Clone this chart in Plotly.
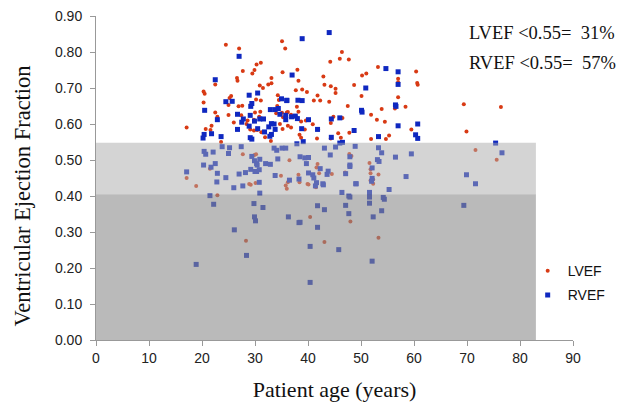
import plotly.graph_objects as go

# LVEF (red) points: patient age, ejection fraction
lvef_age = [24.5, 27.0, 35.1, 35.7, 30.3, 31.1, 29.9, 27.7, 29.5, 26.6, 26.7, 22.5, 33.1, 30.9, 32.5, 33.1,
            31.5, 20.3, 20.5, 25.5, 25.2, 20.3, 25.0, 26.9, 27.6, 34.3, 34.5, 30.2, 31.1, 22.5, 22.9, 25.0,
            27.4, 30.0, 30.8, 31.0, 26.0, 28.4, 28.6, 29.8, 17.1, 21.8, 20.7, 21.6, 29.1, 29.8, 30.4, 31.2,
            23.6, 31.9, 33.0, 34.2, 34.0, 35.1, 36.0, 35.3, 34.7, 35.2, 35.2, 46.4, 46.0, 47.7, 44.2, 38.0,
            42.9, 50.2, 51.0, 53.2, 60.4, 57.0, 57.0, 60.6, 60.7, 38.2, 43.1, 44.3, 45.2, 45.2, 48.7, 37.7,
            38.9, 39.8, 41.8, 41.1, 42.3, 44.0, 50.1, 57.0, 47.5, 58.4, 56.4, 53.9, 37.9, 38.2, 37.7, 36.2,
            36.8, 51.9, 44.8, 46.5, 53.0, 54.5, 44.3, 38.7, 39.6, 40.9, 41.9, 41.7, 39.4, 38.4, 38.7, 44.3,
            45.7, 46.2, 47.8, 51.9, 54.7, 55.3, 59.5, 36.2, 36.8, 69.4, 76.4, 69.9,
            17.1, 18.9, 27.7, 29.9, 30.2, 28.9, 29.2, 30.1, 22.9, 34.9, 36.2, 35.8, 36.5, 38.2, 39.9, 41.8,
            41.6, 42.1, 44.5, 47.0, 47.8, 48.2, 28.3, 40.4, 43.1, 48.0, 53.3, 51.8, 52.3, 40.1, 41.5, 51.6,
            51.8, 51.8, 52.3, 52.1, 53.3, 56.6, 71.6, 75.6, 21.5, 36.0, 38.4]
lvef_val = [0.82, 0.81, 0.83, 0.81, 0.765, 0.77, 0.75, 0.747, 0.74, 0.728, 0.72, 0.71, 0.728, 0.707, 0.71, 0.713,
            0.70, 0.69, 0.684, 0.678, 0.672, 0.66, 0.653, 0.649, 0.651, 0.68, 0.667, 0.668, 0.665, 0.632, 0.62, 0.625,
            0.624, 0.632, 0.62, 0.634, 0.604, 0.60, 0.61, 0.612, 0.59, 0.595, 0.586, 0.583, 0.585, 0.582, 0.583, 0.577,
            0.55, 0.563, 0.553, 0.65, 0.63, 0.631, 0.632, 0.619, 0.60, 0.586, 0.744, 0.80, 0.781, 0.779, 0.773, 0.751,
            0.732, 0.735, 0.74, 0.758, 0.746, 0.726, 0.716, 0.714, 0.709, 0.72, 0.709, 0.705, 0.698, 0.686, 0.708, 0.694,
            0.696, 0.689, 0.679, 0.665, 0.665, 0.662, 0.678, 0.674, 0.65, 0.648, 0.643, 0.642, 0.648, 0.634, 0.62, 0.633,
            0.626, 0.626, 0.62, 0.617, 0.612, 0.606, 0.603, 0.607, 0.61, 0.599, 0.585, 0.56, 0.585, 0.57, 0.562, 0.56,
            0.574, 0.562, 0.576, 0.558, 0.558, 0.568, 0.585, 0.595, 0.59, 0.655, 0.647, 0.579,
            0.45, 0.428, 0.516, 0.514, 0.516, 0.433, 0.431, 0.436, 0.402, 0.456, 0.438, 0.429, 0.499, 0.459, 0.433, 0.489,
            0.479, 0.463, 0.461, 0.465, 0.517, 0.511, 0.276, 0.342, 0.272, 0.329, 0.284, 0.443, 0.434, 0.432, 0.424, 0.492,
            0.474, 0.463, 0.446, 0.438, 0.46, 0.508, 0.528, 0.501, 0.476, 0.42, 0.438]

# RVEF (blue) points
rvef_age = [27.0, 22.5, 28.9, 30.5, 24.5, 25.7, 29.2, 29.4, 20.5, 26.7, 27.8, 29.1, 31.6, 32.9, 33.8, 22.9,
            27.5, 28.9, 30.5, 33.1, 33.6, 26.7, 21.8, 20.2, 20.4, 23.6, 31.8, 32.6, 32.8, 33.1, 29.1, 29.4,
            34.4, 35.0, 36.0, 34.7, 35.8, 33.8, 29.9, 30.9, 44.0, 38.9, 37.0, 54.7, 57.0, 57.0, 50.9, 36.0,
            38.1, 38.9, 50.1, 50.2, 56.5, 56.6, 35.8, 36.9, 37.6, 38.0, 40.1, 44.4, 46.0, 38.8, 41.8, 48.7,
            57.0, 60.7, 44.4, 53.3, 39.1, 60.3, 60.7,
            20.4, 20.7, 22.1, 23.8, 25.2, 25.0, 27.4, 20.3, 21.7, 22.5, 17.1, 22.9, 24.5, 22.8, 27.0, 28.2,
            26.0, 27.7, 29.4, 29.9, 30.3, 30.4, 30.9, 32.0, 32.9, 33.6, 34.1, 35.1, 34.3, 33.8, 35.8, 29.2,
            30.0, 30.3, 30.8, 30.8, 30.9, 36.5, 37.9, 38.5, 39.4, 40.1, 39.7, 40.1, 40.9, 41.1, 41.6, 41.4,
            42.8, 42.9, 43.1, 44.2, 45.2, 46.0, 46.5, 47.9, 47.1, 46.4, 47.7, 47.9, 21.5, 22.2, 29.8, 31.5,
            29.9, 30.1, 26.1, 28.4, 18.9, 36.3, 38.3, 41.8, 43.1, 41.8, 40.4, 40.4, 45.8, 47.1, 47.7, 49.1,
            51.6, 51.6, 51.6, 52.3, 53.9, 54.4, 55.3, 52.1, 69.4, 71.6, 38.5, 53.3, 56.5, 59.5, 53.1, 53.4,
            53.9, 52.1, 58.5, 52.1, 52.0, 54.2, 69.9, 75.4, 76.6, 48.9, 47.9, 47.9, 49.0, 38.3, 42.3, 43.8,
            43.6]
rvef_val = [0.788, 0.723, 0.68, 0.686, 0.662, 0.663, 0.649, 0.657, 0.638, 0.627, 0.614, 0.624, 0.614, 0.64, 0.64, 0.612,
            0.605, 0.594, 0.587, 0.601, 0.60, 0.585, 0.573, 0.561, 0.571, 0.565, 0.578, 0.592, 0.566, 0.571, 0.562, 0.558,
            0.643, 0.67, 0.665, 0.627, 0.612, 0.585, 0.608, 0.614, 0.854, 0.837, 0.736, 0.754, 0.745, 0.71, 0.70, 0.666,
            0.666, 0.665, 0.638, 0.633, 0.653, 0.649, 0.624, 0.62, 0.622, 0.615, 0.612, 0.614, 0.617, 0.587, 0.585, 0.582,
            0.595, 0.60, 0.563, 0.565, 0.551, 0.57, 0.56,
            0.524, 0.516, 0.522, 0.537, 0.534, 0.518, 0.537, 0.486, 0.48, 0.49, 0.467, 0.463, 0.451, 0.439, 0.461, 0.465,
            0.423, 0.428, 0.51, 0.498, 0.49, 0.486, 0.502, 0.49, 0.488, 0.533, 0.527, 0.533, 0.503, 0.457, 0.533, 0.474,
            0.468, 0.468, 0.473, 0.438, 0.408, 0.444, 0.545, 0.509, 0.506, 0.507, 0.49, 0.464, 0.459, 0.45, 0.437, 0.428,
            0.434, 0.431, 0.533, 0.514, 0.536, 0.547, 0.549, 0.482, 0.462, 0.41, 0.40, 0.397, 0.401, 0.377, 0.379, 0.368,
            0.342, 0.331, 0.306, 0.235, 0.21, 0.342, 0.326, 0.373, 0.362, 0.313, 0.26, 0.16, 0.251, 0.374, 0.351, 0.434,
            0.41, 0.397, 0.38, 0.342, 0.359, 0.391, 0.418, 0.219, 0.374, 0.434, 0.327, 0.534, 0.508, 0.517, 0.501, 0.496,
            0.52, 0.478, 0.454, 0.449, 0.441, 0.396, 0.459, 0.547, 0.52, 0.538, 0.486, 0.509, 0.434, 0.447, 0.476, 0.469,
            0.46]

# Axis ticks
x_ticks = [0, 10, 20, 30, 40, 50, 60, 70, 80, 90]
y_ticks = [0.0, 0.1, 0.2, 0.3, 0.4, 0.5, 0.6, 0.7, 0.8, 0.9]
y_ticklabels = ["0.00", "0.10", "0.20", "0.30", "0.40", "0.50", "0.60", "0.70", "0.80", "0.90"]

# Shaded bands
band_age_max = 83
band_low = [0.0, 0.405]
band_high = [0.405, 0.548]

summary_text = ["LVEF <0.55=\u00a0\u00a031%", "RVEF <0.55=\u00a0\u00a057%"]
x_title = "Patient age (years)"
y_title = "Ventricular Ejection Fraction"

serif = "Liberation Serif, Times New Roman, serif"
sans = "Liberation Sans, Arial, sans-serif"

fig = go.Figure()
fig.add_trace(go.Scatter(x=lvef_age, y=lvef_val, mode="markers", name="LVEF", legendgroup="a",
                         marker=dict(symbol="circle", size=4, color="#d83a14", line=dict(width=0))))
fig.add_trace(go.Scatter(x=rvef_age, y=rvef_val, mode="markers", name="RVEF", legendgroup="b",
                         marker=dict(symbol="square", size=5, color="#0f28c0", line=dict(width=0))))

fig.add_shape(type="rect", xref="x", yref="y", x0=0, x1=band_age_max, y0=band_high[0], y1=band_high[1],
              fillcolor="#aaaaaa", opacity=0.5, line=dict(width=0), layer="above")
fig.add_shape(type="rect", xref="x", yref="y", x0=0, x1=band_age_max, y0=band_low[0], y1=band_low[1],
              fillcolor="#8c8c8c", opacity=0.6, line=dict(width=0), layer="above")

fig.add_annotation(x=0.777, y=0.948, xref="paper", yref="paper", text=summary_text[0], showarrow=False,
                   xanchor="left", yanchor="middle", font=dict(family=serif, size=18.5, color="#111111"))
fig.add_annotation(x=0.777, y=0.855, xref="paper", yref="paper", text=summary_text[1], showarrow=False,
                   xanchor="left", yanchor="middle", font=dict(family=serif, size=18.5, color="#111111"))

# y-axis title (placed as rotated text, offset as in the reference)
fig.add_annotation(x=-0.155, y=0.443, xref="paper", yref="paper", text=y_title, showarrow=False,
                   textangle=-90, xanchor="center", yanchor="middle",
                   font=dict(family=serif, size=22.5, color="#111111"))

fig.update_layout(
    width=616, height=404,
    margin=dict(l=88, r=51, t=8, b=72, autoexpand=False),
    paper_bgcolor="white", plot_bgcolor="white",
    showlegend=True,
    legend=dict(x=0.905, y=0.262, xanchor="left", yanchor="top", font=dict(family=sans, size=14, color="#111111"),
                bgcolor="rgba(0,0,0,0)", itemwidth=30, tracegroupgap=3),
    xaxis=dict(range=[0, 90], tickmode="array", tickvals=x_ticks, showgrid=False, zeroline=False, showline=True,
               automargin=False, ticklabeloverflow="allow",
               linecolor="#999999", linewidth=1, ticks="outside", ticklen=5, tickcolor="#999999",
               tickfont=dict(family=sans, size=14, color="#222222"),
               title=dict(text=x_title, font=dict(family=serif, size=22, color="#111111"), standoff=16)),
    yaxis=dict(range=[0, 0.9], tickmode="array", tickvals=y_ticks, ticktext=y_ticklabels,
               showgrid=False, zeroline=False, showline=True,
               automargin=False, ticklabelstandoff=5, ticklabeloverflow="allow",
               linecolor="#999999", linewidth=1, ticks="outside", ticklen=5, tickcolor="#999999",
               tickfont=dict(family=sans, size=14, color="#222222")),
)

fig.write_html("out.html")
